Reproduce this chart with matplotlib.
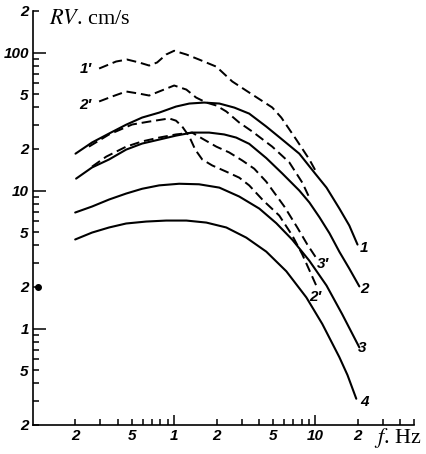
import matplotlib
matplotlib.use('Agg')
import matplotlib.pyplot as plt
from matplotlib.ticker import FixedLocator, FixedFormatter, FuncFormatter, NullFormatter

plt.rcParams['lines.scale_dashes'] = False
plt.rcParams['mathtext.fontset'] = 'stix'

# ---- data (f in Hz, RV in cm/s) ----
s1_f = [0.2, 0.262, 0.346, 0.457, 0.593, 0.783, 1.03, 1.28, 1.63, 2.09, 2.67, 3.4, 4.49, 5.83, 7.7, 9.84, 12.0, 14.8, 17.4, 19.9]
s1_v = [18.5, 22.3, 25.9, 30.0, 33.8, 36.7, 40.6, 42.7, 43.4, 42.7, 39.9, 36.1, 29.1, 23.4, 18.5, 13.5, 10.5, 7.41, 5.58, 4.06]

s2_f = [0.202, 0.262, 0.346, 0.457, 0.593, 0.783, 1.03, 1.34, 1.77, 2.26, 2.75, 3.4, 4.49, 5.83, 7.7, 9.07, 10.7, 12.6, 14.8, 17.4, 20.5]
s2_v = [12.2, 14.7, 16.8, 19.8, 21.9, 23.4, 25.0, 26.3, 26.3, 25.5, 24.2, 21.8, 17.2, 13.3, 10.0, 8.2, 6.4, 4.9, 3.6, 2.72, 2.02]

s3_f = [0.199, 0.262, 0.346, 0.457, 0.593, 0.783, 1.085, 1.5, 2.09, 2.89, 4.01, 5.29, 6.87, 9.07, 12.0, 15.5, 20.5]
s3_v = [6.93, 7.66, 8.61, 9.51, 10.3, 10.9, 11.2, 11.1, 10.5, 9.05, 7.4, 5.8, 4.4, 3.1, 2.05, 1.27, 0.73]

s4_f = [0.199, 0.262, 0.346, 0.457, 0.633, 0.878, 1.22, 1.69, 2.34, 3.24, 4.49, 6.23, 8.64, 11.2, 14.8, 16.9, 19.5]
s4_v = [4.42, 4.96, 5.40, 5.77, 5.96, 6.06, 6.06, 5.86, 5.40, 4.56, 3.61, 2.6, 1.68, 1.08, 0.62, 0.46, 0.31]

d1_f = [0.294, 0.388, 0.464, 0.565, 0.665, 0.757, 0.878, 1.0, 1.22, 1.5, 1.99, 2.58, 3.4, 4.95, 5.74, 7.33, 9.07, 10.2]
d1_v = [76.6, 86.1, 89.0, 84.7, 80.5, 84.7, 96.8, 103.0, 96.8, 89.0, 79.0, 61.7, 51.3, 40.0, 33.8, 23.4, 16.8, 13.5]

d2_f = [0.294, 0.363, 0.457, 0.565, 0.665, 0.783, 1.0, 1.22, 1.43, 1.69, 1.99, 2.34, 2.89, 3.57, 4.95, 6.54, 8.09, 9.06]
d2_v = [44.2, 48.0, 52.2, 50.4, 48.8, 52.2, 57.7, 53.9, 47.2, 43.4, 41.3, 37.4, 31.1, 26.8, 20.8, 16.0, 11.4, 8.9]

d2b_f = [0.249, 0.346, 0.504, 0.665, 0.921, 1.03, 1.14, 1.28, 1.41, 1.58, 1.86, 2.34, 2.89, 3.4, 4.28, 5.55, 6.87, 8.09, 9.37, 10.3]
d2b_v = [20.8, 25.5, 30.1, 31.6, 33.3, 32.1, 29.1, 24.6, 19.8, 16.8, 15.2, 13.7, 12.4, 10.9, 8.46, 6.59, 4.72, 3.44, 2.46, 1.98]

d3_f = [0.262, 0.33, 0.457, 0.593, 0.783, 1.03, 1.34, 1.58, 1.99, 2.45, 3.04, 3.69, 4.49, 6.03, 7.45, 8.78, 10.2]
d3_v = [14.9, 17.6, 20.8, 22.7, 24.2, 25.5, 26.3, 23.8, 20.8, 18.9, 16.5, 14.4, 11.6, 7.66, 5.4, 4.06, 3.22]

x_major = [1, 10]
x_major_labels = ['1', '10']
x_minor_labels = {0.2: '2', 0.5: '5', 2: '2', 5: '5', 20: '2'}
y_major = [1, 10, 100]
y_major_labels = ['1', '10', '100']
y_minor_labels = {0.2: '2', 0.5: '5', 2: '2', 5: '5', 20: '2', 50: '5', 200: '2'}
minor_subs = [2, 3, 4, 5, 6, 7, 8, 9]
decades = [0.1, 1, 10, 100]

dot_f = [0.1085]
dot_v = [2.0]

# ---- figure ----
fig = plt.figure(figsize=(4.27, 4.54), dpi=100)
ax = fig.add_axes([33 / 427, 1 - 425 / 454, 381 / 427, 414 / 454])
ax.set_xscale('log')
ax.set_yscale('log')
ax.set_xlim(0.1, 50)
ax.set_ylim(0.2, 200)

lw = 1.5
dash = (0, (7, 3.5))
for f, v in [(s1_f, s1_v), (s2_f, s2_v), (s3_f, s3_v), (s4_f, s4_v)]:
    ax.plot(f, v, color='black', lw=lw, solid_capstyle='round', solid_joinstyle='round')
for f, v in [(d1_f, d1_v), (d2_f, d2_v), (d2b_f, d2b_v), (d3_f, d3_v)]:
    ax.plot(f, v, color='black', lw=lw * 0.95, linestyle=dash)

ax.plot(dot_f, dot_v, 'o', color='black', markersize=4, clip_on=False)

for s in ['top', 'right']:
    ax.spines[s].set_visible(False)
for s in ['left', 'bottom']:
    ax.spines[s].set_linewidth(1.2)


def minor_fmt(table):
    def f(v, pos):
        for k, lab in table.items():
            if abs(v - k) < 1e-6 * k:
                return lab
        return ''
    return FuncFormatter(f)


ax.xaxis.set_major_locator(FixedLocator(x_major))
ax.xaxis.set_major_formatter(FixedFormatter(x_major_labels))
xminor = [d * s for d in decades for s in minor_subs if 0.1 < d * s <= 50]
ax.xaxis.set_minor_locator(FixedLocator(xminor))
ax.xaxis.set_minor_formatter(minor_fmt(x_minor_labels))

ax.yaxis.set_major_locator(FixedLocator(y_major))
ax.yaxis.set_major_formatter(FixedFormatter(y_major_labels))
yminor = [d * s for d in decades for s in minor_subs if 0.2 <= d * s <= 200]
ax.yaxis.set_minor_locator(FixedLocator(yminor))
ax.yaxis.set_minor_formatter(minor_fmt(y_minor_labels))

ax.tick_params(axis='both', which='both', direction='in', width=1.1)
ax.tick_params(axis='both', which='minor', length=4)
ax.tick_params(axis='x', which='major', length=7)
ax.tick_params(axis='y', which='major', length=9)
ax.tick_params(axis='x', which='both', pad=3)
ax.tick_params(axis='y', which='both', pad=3)

tick_family = ['Liberation Sans', 'DejaVu Sans']
for lab in (ax.get_xticklabels(which='both') + ax.get_yticklabels(which='both')):
    lab.set_fontfamily(tick_family)
    lab.set_fontstyle('italic')
    lab.set_fontweight('bold')
    lab.set_fontsize(11)

# curve labels
lab_kw = dict(family=['Liberation Sans', 'DejaVu Sans'], style='italic', weight='bold',
              size=11, ha='center', va='center')
ax.text(0.2376, 76.6, "1\u2032", **lab_kw)
ax.text(0.2337, 42.0, "2\u2032", **lab_kw)
ax.text(22.3, 3.86, "1", **lab_kw)
ax.text(22.3, 1.92, "2", **lab_kw)
ax.text(21.6, 0.728, "3", **lab_kw)
ax.text(22.3, 0.296, "4", **lab_kw)
ax.text(11.4, 2.96, "3\u2032", **lab_kw)
ax.text(10.0, 1.68, "2\u2032", **lab_kw)

# axis titles
fig.text(49 / 427, 1 - 19 / 454, r"$RV$. cm/s", family='Liberation Serif', size=16,
         ha='left', va='center')
fig.text(374 / 427, 1 - 438 / 454, r"$f$. Hz", family='Liberation Serif', size=16,
         ha='left', va='center')

fig.savefig('out.png', dpi=100, facecolor='white')
